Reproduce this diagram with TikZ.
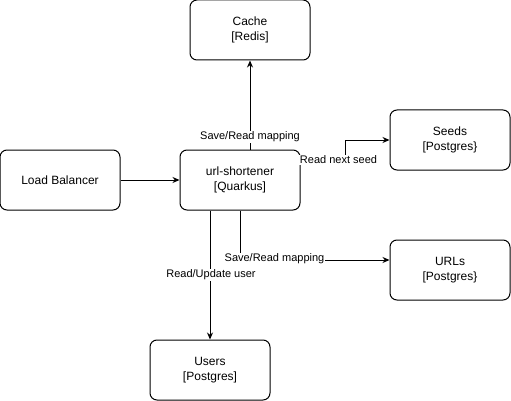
\documentclass[tikz,border=0pt]{standalone}
\usepackage{fontspec}
\setmainfont{Liberation Sans}
\usetikzlibrary{arrows.meta}
\begin{document}
\begin{tikzpicture}[x=1pt,y=-1pt,
  box/.style={draw, line width=1pt, rounded corners=7pt, minimum width=120pt, minimum height=60pt,
    align=center, font=\fontsize{12}{15}\selectfont, inner sep=0pt},
  arr/.style={draw, line width=1pt, -{Stealth[length=7pt,width=6pt]}},
  lbl/.style={fill=white, inner sep=1pt, font=\fontsize{11}{13}\selectfont}]
\useasboundingbox (0,0) rectangle (511,401);
\node[box] (cache) at (250,30) {Cache\\{[}Redis{]}};
\node[box] (lb) at (60,180) {Load Balancer};
\node[box] (us) at (240,180) {url-shortener\\{[}Quarkus{]}};
\node[box] (seeds) at (450,140) {Seeds\\{[}Postgres\}};
\node[box] (urls) at (450,270) {URLs\\{[}Postgres\}};
\node[box] (users) at (210,370) {Users\\{[}Postgres{]}};

\draw[arr] (lb) -- (us);
\draw[arr] ([xshift=10pt]us.north) -- (cache.south);
\draw[arr] ([yshift=20pt]us.east) -- ++(45,0) |- (seeds.west);
\draw[arr] (us.south) |- ([yshift=10pt]urls.west);
\draw[arr] ([xshift=-30pt]us.south) -- (users.north);

\node[lbl] (l1) at (250,137) {Save/Read mapping};
\node[lbl] (l2) at (338.5,160) {Read next seed};
\node[lbl] (l3) at (274.5,259) {Save/Read mapping};
\node[lbl] (l4) at (211,275) {Read/Update user};
\end{tikzpicture}
\end{document}
